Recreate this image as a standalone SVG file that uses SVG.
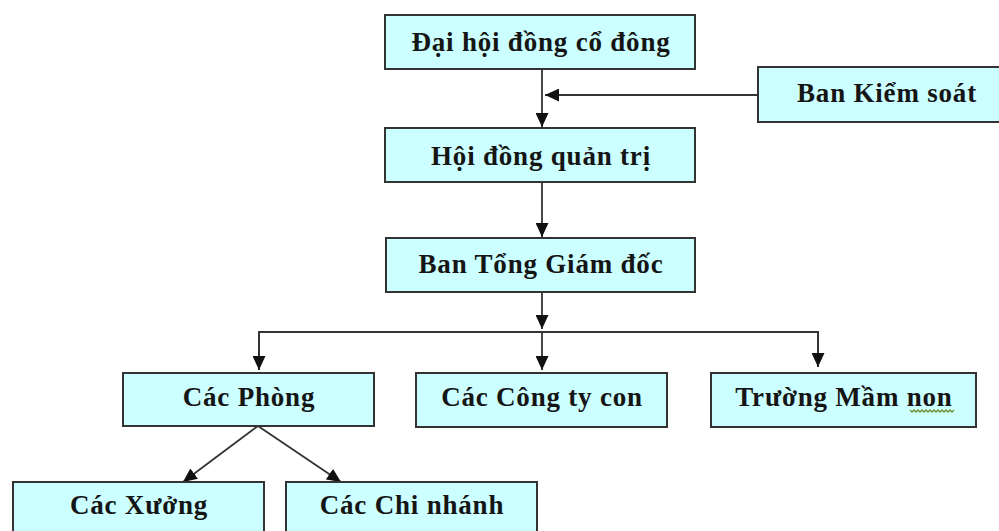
<svg xmlns="http://www.w3.org/2000/svg" width="999" height="531" viewBox="0 0 999 531">
<style>
.box{fill:#ccffff;stroke:#333;stroke-width:2}
.lbl{font-family:"Liberation Serif","Times New Roman",serif;font-weight:bold;font-size:27px;letter-spacing:0.8px;fill:#151515;text-anchor:middle}
.ln{stroke:#333;stroke-width:1.8;fill:none}
</style>
<defs>
<marker id="ah" markerUnits="userSpaceOnUse" markerWidth="15" markerHeight="13" refX="14" refY="6.5" orient="auto">
<path d="M0,0 L14,6.5 L0,13 Z" fill="#111"/>
</marker>
</defs>
<rect width="999" height="531" fill="#fff"/>
<g id="connectors">
<line class="ln" x1="542" y1="69" x2="542" y2="127" marker-end="url(#ah)"/>
<line class="ln" x1="758" y1="95" x2="545" y2="95" marker-end="url(#ah)"/>
<line class="ln" x1="542" y1="182" x2="542" y2="237" marker-end="url(#ah)"/>
<line class="ln" x1="542" y1="292" x2="542" y2="329" marker-end="url(#ah)"/>
<polyline class="ln" points="259,370 259,332 818,332 818,367"/>
<line class="ln" x1="259" y1="332" x2="259" y2="370" marker-end="url(#ah)"/>
<line class="ln" x1="542" y1="332" x2="542" y2="370" marker-end="url(#ah)"/>
<line class="ln" x1="818" y1="332" x2="818" y2="367" marker-end="url(#ah)"/>
<line class="ln" x1="258" y1="426" x2="183" y2="482" marker-end="url(#ah)"/>
<line class="ln" x1="258" y1="426" x2="341" y2="482" marker-end="url(#ah)"/>
</g>
<g id="dhdcd"><rect class="box" x="385" y="15" width="310" height="54"/><text class="lbl" x="541" y="51">Đại hội đồng cổ đông</text></g>
<g id="bks"><rect class="box" x="758" y="67" width="260" height="55"/><text class="lbl" x="887" y="102">Ban Kiểm soát</text></g>
<g id="hdqt"><rect class="box" x="385" y="128" width="310" height="54"/><text class="lbl" x="541" y="165">Hội đồng quản trị</text></g>
<g id="btgd"><rect class="box" x="386" y="238" width="309" height="54"/><text class="lbl" x="541" y="273">Ban Tổng Giám đốc</text></g>
<g id="phong"><rect class="box" x="123" y="373" width="251" height="53"/><text class="lbl" x="249" y="406">Các Phòng</text></g>
<g id="congty"><rect class="box" x="416" y="373" width="251" height="54"/><text class="lbl" x="542" y="406">Các Công ty con</text></g>
<g id="mamnon"><rect class="box" x="711" y="373" width="265" height="54"/><text class="lbl" x="844" y="406">Trường Mầm non</text>
<path d="M910,410 l2,2 l2,-2 l2,2 l2,-2 l2,2 l2,-2 l2,2 l2,-2 l2,2 l2,-2 l2,2 l2,-2 l2,2 l2,-2 l2,2 l2,-2 l2,2 l2,-2 l2,2 l2,-2 l2,2 l2,-2" fill="none" stroke="#6f8f2f" stroke-width="1.3"/></g>
<g id="xuong"><rect class="box" x="13" y="482" width="251" height="70"/><text class="lbl" x="139" y="514">Các Xưởng</text></g>
<g id="chinhanh"><rect class="box" x="286" y="482" width="251" height="70"/><text class="lbl" x="412" y="514">Các Chi nhánh</text></g>
</svg>
